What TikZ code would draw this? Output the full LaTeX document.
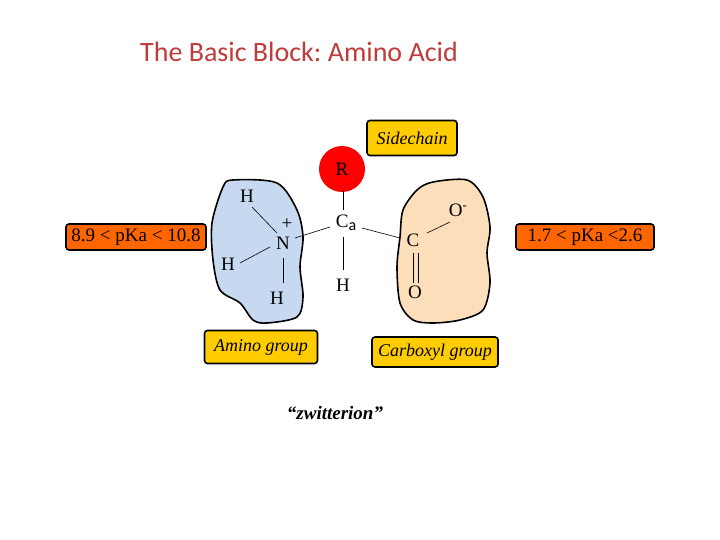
\documentclass[tikz,border=0pt]{standalone}
\usepackage{fontspec}
\setmainfont{Liberation Serif}
\newfontfamily\carl{Carlito}
\frenchspacing
\begin{document}
\begin{tikzpicture}[x=1pt,y=-1pt,
  atom/.style={font=\fontsize{19}{21}\selectfont},
  lbl/.style={draw=black,line width=1.6pt,rounded corners=3pt,fill=yellowbox,font=\fontsize{18}{20}\selectfont\itshape,inner sep=0pt},
  pka/.style={draw=black,line width=1.6pt,rounded corners=3pt,fill=orangebox,font=\fontsize{19}{21}\selectfont,inner sep=0pt},
  blob/.style={draw=black,line width=1.6pt},
  bond/.style={line width=0.6pt}]
\definecolor{yellowbox}{RGB}{255,204,0}
\definecolor{orangebox}{RGB}{255,102,0}
\definecolor{bluefill}{RGB}{198,217,240}
\definecolor{peach}{RGB}{252,222,186}
\definecolor{titlered}{RGB}{192,60,60}
\useasboundingbox (0,0) rectangle (720,540);
\node[text=titlered,font=\carl\fontsize{28}{32}\selectfont] (title) at (299,52) {The Basic Block: Amino Acid};
\draw[blob,fill=bluefill] plot[smooth cycle,tension=0.5] coordinates {(223,187)(233,180)(277,183)(297,210)(303,237)(300,267)(303,297)(297,317)(267,323)(253,320)(240,303)(220,290)(213,260)(212,223)};
\draw[blob,fill=peach] plot[smooth cycle,tension=0.5] coordinates {(417,190)(433,182)(467,180)(483,197)(490,227)(487,253)(490,283)(483,310)(460,320)(433,323)(413,320)(400,303)(397,267)(400,237)(403,210)};
\node[lbl,minimum width=90pt,minimum height=35pt] (side) at (412,138) {Sidechain};
\node[lbl,minimum width=113pt,minimum height=33pt] (amino) at (261,347) {Amino group};
\node[lbl,minimum width=126pt,minimum height=30pt] (carb) at (435,352) {Carboxyl group};
\node[pka,minimum width=140pt,minimum height=26pt] (pk1) at (136,237) {8.9 < pKa < 10.8};
\node[pka,minimum width=138pt,minimum height=26pt] (pk2) at (585,237) {1.7 < pKa <2.6};
\node[circle,fill=red,minimum size=46pt,inner sep=0pt,atom] (R) at (342,169) {R};
\node[atom] (H1) at (247,196) {H};
\node[atom] (N) at (283,243) {N};
\node[atom] (plus) at (287,224) {+};
\node[atom] (H2) at (228,264) {H};
\node[atom] (H3) at (277,298) {H};
\node[atom] (Ca) at (346,223) {C\raisebox{-0.3ex}{\fontsize{16}{18}\selectfont\carl a}};
\node[atom] (H4) at (343,285) {H};
\node[atom] (C) at (413,240) {C};
\node[atom] (Om) at (458,210) {O\raisebox{0.8ex}{\fontsize{13}{13}\selectfont -}};
\node[atom] (O) at (415,292) {O};
\node[font=\fontsize{19}{21}\selectfont\bfseries\itshape] (zw) at (335,413) {“zwitterion”};
\draw[bond] (252,207) -- (277,233);
\draw[bond] (240,263) -- (270,247);
\draw[bond] (283,258) -- (283,283);
\draw[bond] (295,238) -- (330,227);
\draw[bond] (343,190) -- (343,210);
\draw[bond] (343,237) -- (343,270);
\draw[bond] (362,228) -- (400,238);
\draw[bond] (427,233) -- (450,222);
\draw[bond] (413,253) -- (413,283);
\draw[bond] (418,253) -- (418,283);
\end{tikzpicture}
\end{document}
